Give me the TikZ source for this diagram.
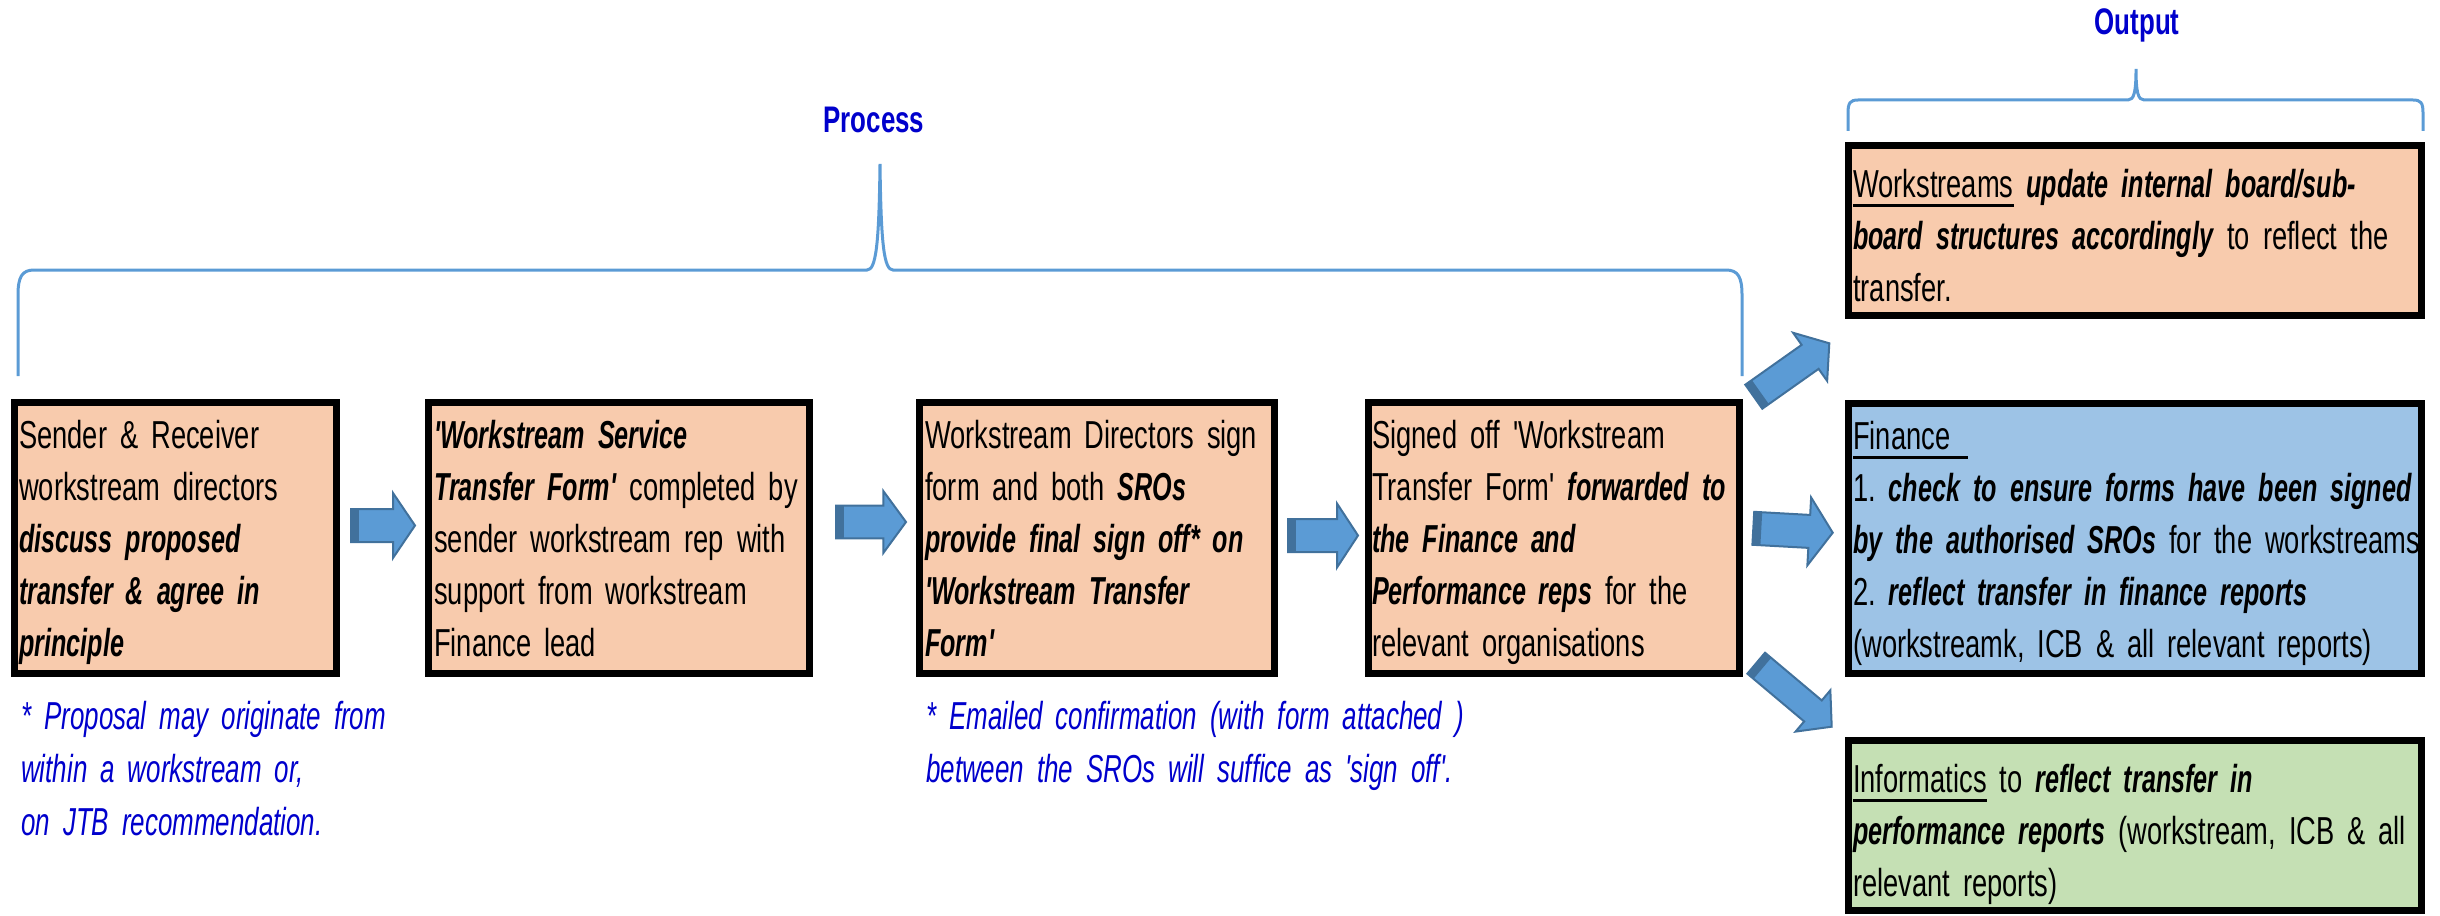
\documentclass[tikz,border=0pt]{standalone}
\usepackage{fontspec}
\setmainfont{Liberation Sans}[Ligatures=TeXOff,
  UprightFeatures={FakeStretch=0.7},
  BoldFeatures={FakeStretch=0.7},
  ItalicFeatures={FakeStretch=0.665},
  BoldItalicFeatures={FakeStretch=0.645}]
\usetikzlibrary{calc}
\frenchspacing
\definecolor{orangefill}{HTML}{F8CBAD}
\definecolor{bluefill}{HTML}{9DC3E6}
\definecolor{greenfill}{HTML}{C5E0B4}
\definecolor{arrowfill}{HTML}{5B9BD5}
\definecolor{arrowline}{HTML}{41719C}
\definecolor{braceblue}{HTML}{5B9BD5}
\definecolor{headblue}{HTML}{0000CC}
\definecolor{noteblue}{HTML}{0000CC}
\newcommand\mybody{\fontsize{39pt}{52pt}\selectfont\frenchspacing\spaceskip=7.5pt\relax}
\newcommand\mynote{\fontsize{39pt}{53pt}\selectfont\frenchspacing\spaceskip=7.5pt\relax}
\newcommand\myhead{\fontsize{37pt}{40pt}\selectfont}
\newcommand\BI[1]{\textbf{\textit{#1}}}
\newcommand\myul[1]{\setbox0=\hbox{#1}\rlap{\vrule height -7pt depth 10pt width \wd0}\box0\relax}
\newcommand\blockarrow[5]{%
  \coordinate (hb) at ($(#2)!#5!(#1)$);
  \coordinate (ts) at ($(#1)!8pt!(#2)$);
  \draw[barrow] ($(#1)!#3!90:(#2)$) -- ($(hb)!#3!90:(#2)$) -- ($(hb)!#4!90:(#2)$) -- (#2)
     -- ($(hb)!#4!-90:(#2)$) -- ($(hb)!#3!-90:(#2)$) -- ($(#1)!#3!-90:(#2)$) -- cycle;
  \fill[arrowline] ($(#1)!#3!90:(#2)$) -- ($(ts)!#3!90:(#2)$) -- ($(ts)!#3!-90:(#2)$) -- ($(#1)!#3!-90:(#2)$) -- cycle;
}
\tikzset{
  box/.style={draw=black, line width=7pt, inner sep=0pt, outer sep=0pt},
  txt/.style={anchor=base west, inner sep=0pt, text width=640pt, align=left, font=\mybody},
  note/.style={anchor=base west, inner sep=0pt, text width=700pt, align=left, text=noteblue, font=\mynote\itshape},
  head/.style={anchor=base, inner sep=0pt, text=headblue, font=\myhead\bfseries},
  brace/.style={draw=braceblue, line width=3pt},
  barrow/.style={fill=arrowfill, draw=arrowline, line width=2pt, line join=miter},
}
\begin{document}
\begin{tikzpicture}[x=1pt, y=-1pt]
\useasboundingbox (0,0) rectangle (2440,915);

% ---- braces and headings
\draw[brace] (18,376) -- (18,295) .. controls (18,277) and (22,270) .. (34,270) -- (867,270)
  .. controls (876,270) and (879,245) .. (880,164) .. controls (881,245) and (884,270) .. (893,270)
  -- (1726,270) .. controls (1738,270) and (1742,277) .. (1742,295) -- (1742,376);
\draw[brace] (1848,131) -- (1848,113) .. controls (1848,103) and (1850,100) .. (1858,100) -- (2128,100)
  .. controls (2134,100) and (2136,92) .. (2136,69) .. controls (2136,92) and (2138,100) .. (2144,100)
  -- (2413,100) .. controls (2421,100) and (2423,103) .. (2423,113) -- (2423,131);
\node[head] (proc) at (874,132) {Process};
\node[head] (outp) at (2137,35) {Output};

% ---- process boxes
\node[box, fill=orangefill, minimum width=322pt, minimum height=271pt] (b1) at (175.5,538) {};
\node[box, fill=orangefill, minimum width=381pt, minimum height=271pt] (b2) at (619,538) {};
\node[box, fill=orangefill, minimum width=355pt, minimum height=271pt] (b3) at (1097,538) {};
\node[box, fill=orangefill, minimum width=371pt, minimum height=271pt] (b4) at (1554,538) {};

\node[txt] (b1t) at (19,448) {Sender \& Receiver\\
workstream directors\\
\BI{discuss proposed}\\
\BI{transfer \& agree in}\\
\BI{principle}};
\node[txt] (b2t) at (434,448) {\BI{'Workstream Service}\\
\BI{Transfer Form'} completed by\\
sender workstream rep with\\
support from workstream\\
Finance lead};
\node[txt] (b3t) at (925,448) {Workstream Directors sign\\
form and both \BI{SROs}\\
\BI{provide final sign off* on}\\
\BI{'Workstream Transfer}\\
\BI{Form'}};
\node[txt] (b4t) at (1372,448) {Signed off 'Workstream\\
Transfer Form' \BI{forwarded to}\\
\BI{the Finance and}\\
\BI{Performance reps} for the\\
relevant organisations};

% ---- output boxes
\node[box, fill=orangefill, minimum width=573pt, minimum height=170pt] (o1) at (2135,230.5) {};
\node[box, fill=bluefill, minimum width=573pt, minimum height=270pt] (o2) at (2135,538.5) {};
\node[box, fill=greenfill, minimum width=573pt, minimum height=170pt] (o3) at (2135,825.5) {};

\node[txt] (o1t) at (1853,197) {\myul{Workstreams} \BI{update internal board/sub-}\\
\BI{board structures accordingly} to reflect the\\
transfer.};
\node[txt] (o2t) at (1853,449) {\myul{Finance\hspace{18pt}}\\
1. \BI{check to ensure forms have been signed}\\
\BI{by the authorised SROs} for the workstreams\\
2. \BI{reflect transfer in finance reports}\\
(workstreamk, ICB \& all relevant reports)};
\node[txt] (o3t) at (1853,792) {\myul{Informatics} to \BI{reflect transfer in}\\
\BI{performance reports} (workstream, ICB \& all\\
relevant reports)};

% ---- notes
\node[note] (n1) at (21,729) {* Proposal may originate from\\
within a workstream or,\\
on JTB recommendation.};
\node[note] (n2) at (926,729) {* Emailed confirmation (with form attached )\\
between the SROs will suffice as 'sign off'.};

% ---- block arrows
\coordinate (a1s) at (351,525.5);   \coordinate (a1e) at (415,525.5);
\coordinate (a2s) at (836,522);     \coordinate (a2e) at (906,522);
\coordinate (a3s) at (1288,535.5);  \coordinate (a3e) at (1358,535.5);
\coordinate (a4s) at (1753.8,396.7);\coordinate (a4e) at (1829.3,343.3);
\coordinate (a5s) at (1753.3,528.3);\coordinate (a5e) at (1832.7,532.7);
\coordinate (a6s) at (1756.2,663.2);\coordinate (a6e) at (1831.7,726.7);
\blockarrow{a1s}{a1e}{16.5pt}{32.5pt}{22pt}
\blockarrow{a2s}{a2e}{16.3pt}{31pt}{22.7pt}
\blockarrow{a3s}{a3e}{16.5pt}{32pt}{21pt}
\blockarrow{a4s}{a4e}{14.7pt}{29.5pt}{23.5pt}
\blockarrow{a5s}{a5e}{16.5pt}{34pt}{23.5pt}
\blockarrow{a6s}{a6e}{13.7pt}{27pt}{24.5pt}
\end{tikzpicture}
\end{document}
